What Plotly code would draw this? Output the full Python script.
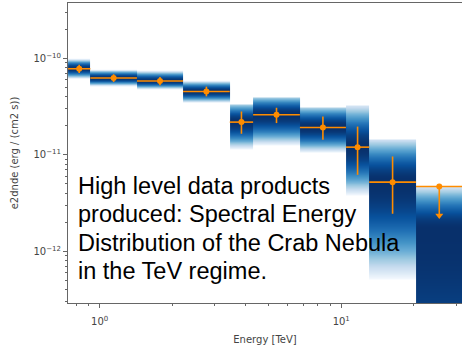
import numpy as np
import plotly.graph_objects as go

# ---------------- data ----------------
energy_edges = [0.74, 0.915, 1.427, 2.214, 3.457, 4.318, 6.744, 10.46, 13.06, 20.39, 31.8]  # TeV
e2dnde = [7.78e-11, 6.23e-11, 5.80e-11, 4.53e-11, 2.18e-11, 2.60e-11, 1.92e-11, 1.20e-11, 5.21e-12, 4.69e-12]
e2dnde_errn = [0.75e-11, 0.55e-11, 0.55e-11, 0.50e-11, 0.53e-11, 0.47e-11, 0.49e-11, 0.58e-11, 2.76e-12, 0.0]
e2dnde_errp = [0.80e-11, 0.60e-11, 0.60e-11, 0.55e-11, 0.63e-11, 0.47e-11, 0.57e-11, 0.76e-11, 4.40e-12, 0.0]
is_ul = [False, False, False, False, False, False, False, False, False, True]

# likelihood-profile shading (stat scan) per bin
profile_peak = [7.78e-11, 6.23e-11, 5.80e-11, 4.53e-11, 2.18e-11, 2.60e-11, 1.92e-11, 1.20e-11, 5.21e-12, 1.67e-12]
profile_hi = [9.88e-11, 7.60e-11, 7.42e-11, 5.85e-11, 3.63e-11, 4.29e-11, 3.38e-11, 3.54e-11, 1.61e-11, 5.13e-12]
profile_lo = [6.13e-11, 5.13e-11, 4.77e-11, 3.46e-11, 1.13e-11, 1.24e-11, 1.05e-11, 3.76e-12, 5.07e-13, 1e-15]
scan_max = [9.88e-11, 7.60e-11, 7.42e-11, 5.85e-11, 3.30e-11, 3.90e-11, 3.07e-11, 3.22e-11, 1.43e-11, 4.66e-12]

x_tick_vals = [1, 10]
x_tick_text = ["10<sup>0</sup>", "10<sup>1</sup>"]
y_tick_vals = [1e-12, 1e-11, 1e-10]
y_tick_text = ["10<sup>\u221212</sup>", "10<sup>\u221211</sup>", "10<sup>\u221210</sup>"]

text_lines = ["High level data products",
              "produced: Spectral Energy",
              "Distribution of the Crab Nebula",
              "in the TeV regime."]

# ---------------- derived ----------------
edges = np.array(energy_edges)
e_min, e_max = edges[:-1], edges[1:]
e_ref = np.sqrt(e_min * e_max)
y = np.array(e2dnde)
ul = np.array(is_ul)
errn = np.where(ul, 0.5 * y, np.array(e2dnde_errn))
errp = np.where(ul, 0.0, np.array(e2dnde_errp))

# stat-scan heatmap
yedges = np.logspace(-12.6, -9.35, 801)
yc = np.sqrt(yedges[:-1] * yedges[1:])
z = np.full((len(yc), len(e2dnde)), np.nan)
for i in range(len(e2dnde)):
    p = profile_peak[i]
    d = np.log10(yc / p)
    D = np.where(d > 0, np.log10(profile_hi[i] / p), np.log10(p / profile_lo[i]))
    dts = 4.0 * (d / D) ** 2
    col = -dts
    col[(dts > 4) | (yc > scan_max[i])] = np.nan
    z[:, i] = col

blues = ["#f7fbff", "#deebf7", "#c6dbef", "#9ecae1", "#6baed6",
         "#4292c6", "#2171b5", "#08519c", "#08306b"]
cscale = [[k / (len(blues) - 1), c] for k, c in enumerate(blues)]

fig = go.Figure()
fig.add_trace(go.Heatmap(x=edges, y=yedges, z=z, zmin=-4, zmax=0,
                         colorscale=cscale, showscale=False, hoverinfo="skip"))

orange = "darkorange"
fig.add_trace(go.Scatter(
    x=e_ref, y=y, mode="markers",
    marker=dict(color=orange, size=6),
    error_x=dict(type="data", symmetric=False, array=e_max - e_ref,
                 arrayminus=e_ref - e_min, width=0, thickness=1.6, color=orange),
    error_y=dict(type="data", symmetric=False, array=errp, arrayminus=errn,
                 width=0, thickness=1.6, color=orange),
    showlegend=False, hoverinfo="skip"))

fig.add_trace(go.Scatter(
    x=e_ref[ul], y=(y - errn)[ul], mode="markers",
    marker=dict(symbol="triangle-down", color=orange, size=7),
    showlegend=False, hoverinfo="skip"))

# annotations (one per line)
top_px, bot_px = 3, 303
centers_px = [185.8, 214.3, 242.8, 271.3]
for line, cy in zip(text_lines, centers_px):
    fig.add_annotation(text=line, xref="paper", yref="paper",
                       x=(75.5 - 68) / 394, y=(bot_px - cy) / (bot_px - top_px),
                       xanchor="left", yanchor="middle", showarrow=False,
                       font=dict(family="Liberation Sans, Arial", size=23.5, color="black"))

minor_x = [v * 10 ** n for n in (-1, 0, 1) for v in range(2, 10)]
minor_y = [v * 10.0 ** n for n in (-13, -12, -11, -10) for v in range(2, 10)]

axis_font = dict(family="DejaVu Sans", size=10, color="#444")
fig.update_xaxes(type="log", range=[-0.131, 1.500],
                 tickmode="array", tickvals=x_tick_vals, ticktext=x_tick_text,
                 ticks="outside", ticklen=4, tickwidth=1, tickcolor="#666",
                 ticklabelstandoff=5,
                 minor=dict(tickmode="array", tickvals=minor_x, ticks="outside",
                            ticklen=2, tickwidth=1, tickcolor="#666", showgrid=False),
                 showline=True, linecolor="#666", linewidth=1, mirror=True,
                 showgrid=False, zeroline=False, tickfont=axis_font,
                 title=dict(text="Energy [TeV]", font=axis_font, standoff=9))
fig.update_yaxes(type="log", range=[-12.535, -9.428],
                 tickmode="array", tickvals=y_tick_vals, ticktext=y_tick_text,
                 ticks="outside", ticklen=4, tickwidth=1, tickcolor="#666",
                 minor=dict(tickmode="array", tickvals=minor_y, ticks="outside",
                            ticklen=2, tickwidth=1, tickcolor="#666", showgrid=False),
                 showline=True, linecolor="#666", linewidth=1, mirror=False,
                 showgrid=False, zeroline=False, tickfont=axis_font,
                 title=dict(text="e2dnde (erg / (cm2 s))", font=axis_font, standoff=12))

fig.update_layout(width=462, height=346,
                  margin=dict(l=68, r=0, t=3, b=43, autoexpand=False),
                  paper_bgcolor="white", plot_bgcolor="white",
                  showlegend=False)

fig.write_html("out.html", config={"displayModeBar": False},
               post_script="document.body.style.margin='0px';")
